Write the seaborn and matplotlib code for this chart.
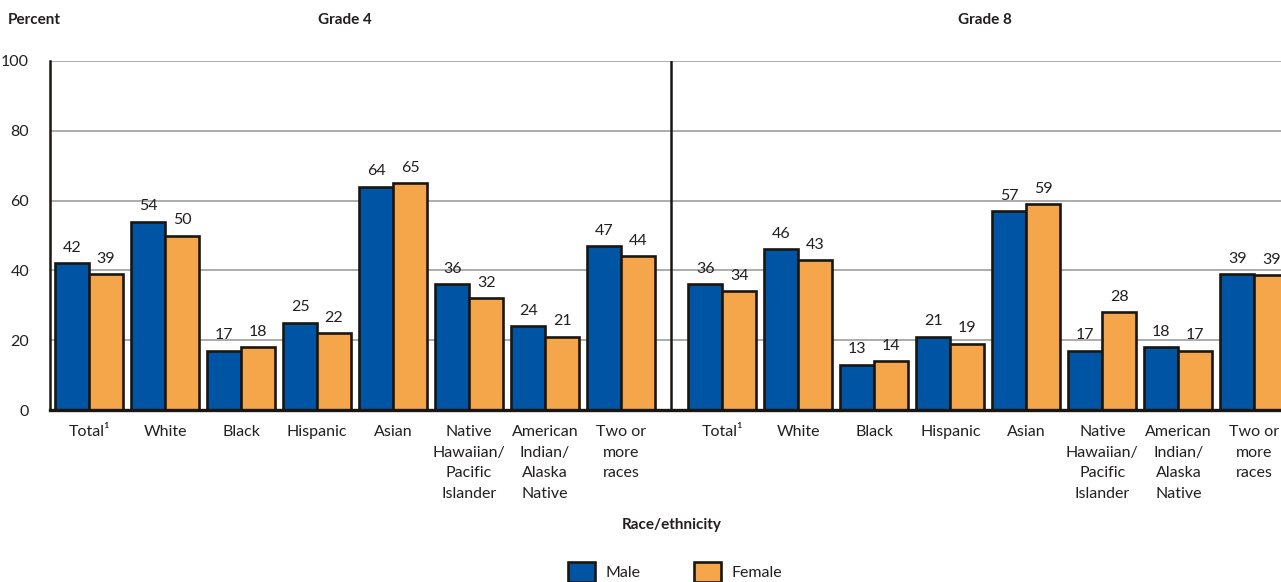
import matplotlib
matplotlib.use("Agg")
import matplotlib.pyplot as plt
from matplotlib.patches import Patch
import pandas as pd
import seaborn as sns

# data
groups = ["Total\u00b9", "White", "Black", "Hispanic", "Asian",
          "Native\nHawaiian/\nPacific\nIslander",
          "American\nIndian/\nAlaska\nNative",
          "Two or\nmore\nraces"]
grade4_male = [42, 54, 17, 25, 64, 36, 24, 47]
grade4_female = [39, 50, 18, 22, 65, 32, 21, 44]
grade8_male = [36, 46, 13, 21, 57, 17, 18, 39]
grade8_female = [34, 43, 14, 19, 59, 28, 17, 38.6]
sexes = ["Male", "Female"]

# x positions: grade 4 at 0..7, grade 8 shifted right after a separator
gap = 8.33
sep = 7.66
pos4 = list(range(len(groups)))
pos8 = [p + gap for p in pos4]

rows = []
for pos, m, f in zip(pos4 + pos8, grade4_male + grade8_male, grade4_female + grade8_female):
    rows.append({"pos": pos, "value": m, "sex": "Male"})
    rows.append({"pos": pos, "value": f, "sex": "Female"})
df = pd.DataFrame(rows)

sns.set_style("white")
plt.rcParams["font.family"] = ["Lato", "DejaVu Sans"]
text_col = "#231f20"

fig = plt.figure(figsize=(12.81, 5.82), dpi=100)
ax = fig.add_axes([50 / 1281, 1 - 410 / 582, 1 - 50 / 1281, (410 - 61) / 582])

palette = {"Male": "#0054a4", "Female": "#f5a64b"}
sns.barplot(data=df, x="pos", y="value", hue="sex", hue_order=sexes,
            native_scale=True, width=0.895, palette=palette, errorbar=None,
            edgecolor="#1a1712", linewidth=1.9, saturation=1, legend=False,
            ax=ax, zorder=3)

for cont in ax.containers:
    labels = [f"{round(b.get_height()):d}" for b in cont]
    ax.bar_label(cont, labels=labels, padding=6, fontsize=11.5, color=text_col)

ax.set_xlim(-0.513, 15.68)
ax.set_ylim(0, 100)
ax.set_yticks([0, 20, 40, 60, 80, 100])
ax.yaxis.grid(True, color="#a6a6a6", linewidth=1.3, zorder=0)
ax.set_axisbelow(True)
ax.tick_params(axis="y", length=0, pad=15, labelsize=11.5, labelcolor=text_col)
ax.set_xticks(pos4 + pos8)
ax.set_xticklabels(groups + groups, fontsize=11.5, color=text_col,
                   linespacing=1.6, va="top")
ax.tick_params(axis="x", length=0, pad=11)
ax.set_xlabel("")
ax.set_ylabel("")

for s in ["top", "right"]:
    ax.spines[s].set_visible(False)
ax.spines["left"].set_color("#1a1712")
ax.spines["left"].set_linewidth(1.8)
ax.spines["bottom"].set_color("#1a1712")
ax.spines["bottom"].set_linewidth(2.4)
ax.spines["bottom"].set_zorder(4)
ax.axvline(sep, color="#1a1712", linewidth=1.8, zorder=4)

fig.text(8 / 1281, 1 - 20 / 582, "Percent", fontsize=11, fontweight="bold",
         color=text_col, ha="left", va="center")
fig.text(345 / 1281, 1 - 20 / 582, "Grade 4", fontsize=11, fontweight="bold",
         color=text_col, ha="center", va="center")
fig.text(985 / 1281, 1 - 20 / 582, "Grade 8", fontsize=11, fontweight="bold",
         color=text_col, ha="center", va="center")
fig.text(672 / 1281, 1 - 525 / 582, "Race/ethnicity", fontsize=11, fontweight="bold",
         color=text_col, ha="center", va="center")

handles = [Patch(facecolor=palette[s], edgecolor="#1a1712", linewidth=1.9, label=s)
           for s in sexes]
fig.legend(handles=handles, loc="center", bbox_to_anchor=(675 / 1281, 1 - 572 / 582),
           ncol=2, frameon=False, fontsize=11.5, handlelength=1.7, handleheight=1.5,
           columnspacing=3.4, handletextpad=0.6, labelcolor=text_col)

fig.savefig("out.png", dpi=100)
